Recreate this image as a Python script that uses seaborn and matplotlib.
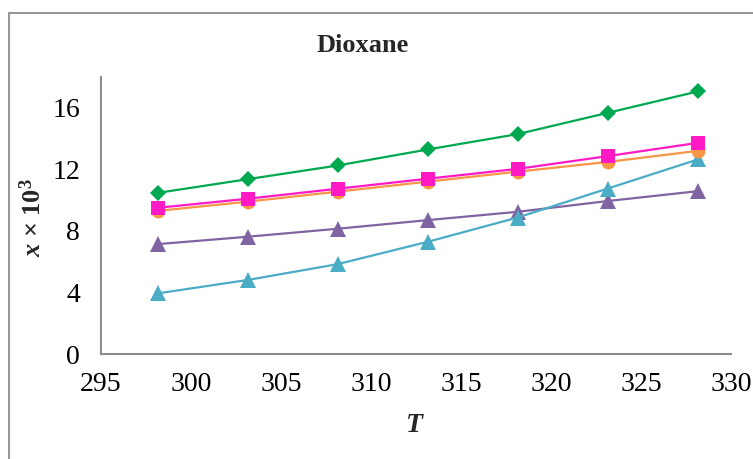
import matplotlib
matplotlib.use("Agg")
import matplotlib.pyplot as plt
import seaborn as sns
import pandas as pd
from matplotlib.patches import Rectangle

T = [298.15, 303.15, 308.15, 313.15, 318.15, 323.15, 328.15]
s_purple = [7.14, 7.62, 8.14, 8.70, 9.24, 9.94, 10.58]
s_blue = [3.94, 4.81, 5.84, 7.29, 8.87, 10.75, 12.64]
s_orange = [9.30, 9.90, 10.55, 11.20, 11.85, 12.48, 13.20]
s_pink = [9.50, 10.09, 10.74, 11.39, 12.03, 12.86, 13.72]
s_green = [10.47, 11.36, 12.25, 13.29, 14.29, 15.67, 17.06]

x_ticks = [295, 300, 305, 310, 315, 320, 325, 330]
y_ticks = [0, 4, 8, 12, 16]
title = "Dioxane"

sns.set_theme(style="white")
plt.rcParams['font.family'] = ['Liberation Serif', 'DejaVu Serif']
plt.rcParams['mathtext.fontset'] = 'custom'
plt.rcParams['mathtext.it'] = 'Liberation Serif:bold:italic'
plt.rcParams['mathtext.rm'] = 'Liberation Serif:bold'
plt.rcParams['mathtext.bf'] = 'Liberation Serif:bold'

fig = plt.figure(figsize=(7.53, 4.59), dpi=100)
ax = fig.add_axes([101/753, 1-354/459, 630/753, 277/459])

series = [
    (s_purple, '#8064A2', '^', 11),
    (s_blue, '#4BACC6', '^', 11),
    (s_orange, '#F79646', 'o', 10),
    (s_pink, '#FF1AC6', 's', 10),
    (s_green, '#00A850', 'D', 8),
]
for vals, col, mk, ms in series:
    df = pd.DataFrame({"T": T, "v": vals})
    sns.lineplot(data=df, x="T", y="v", ax=ax, color=col, marker=mk,
                 markersize=ms, markeredgewidth=0, linewidth=1.6)

ax.set_xlim(295, 330)
ax.set_ylim(0, 18)
ax.set_xticks(x_ticks)
ax.set_yticks(y_ticks)
for s in ['top', 'right']:
    ax.spines[s].set_visible(False)
for s in ['left', 'bottom']:
    ax.spines[s].set_color('#8c8c8c')
    ax.spines[s].set_linewidth(1.5)
ax.tick_params(axis='both', direction='in', length=6, width=1.2, color='#8c8c8c',
               labelsize=20, labelcolor='black')
ax.tick_params(axis='y', pad=15)
ax.tick_params(axis='x', pad=13)
ax.set_xlabel("")
ax.set_ylabel("")

fig.text(363/753, 1-45/459, title, ha='center', va='center', fontsize=19, fontweight='bold')
fig.text(415/753, 1-425/459, "$T$", ha='center', va='center', fontsize=20)
fig.text(33/753, 1-218/459, "$x$ × 10$^{3}$", ha='center', va='center', fontsize=19,
         fontweight='bold', rotation=90)

fig.patches.append(Rectangle((8.5/753, -0.2), 2, 1.2 - 12.5/459, transform=fig.transFigure,
                             fill=False, edgecolor='#8c8c8c', linewidth=1.3))

fig.savefig("out.png", dpi=100)
